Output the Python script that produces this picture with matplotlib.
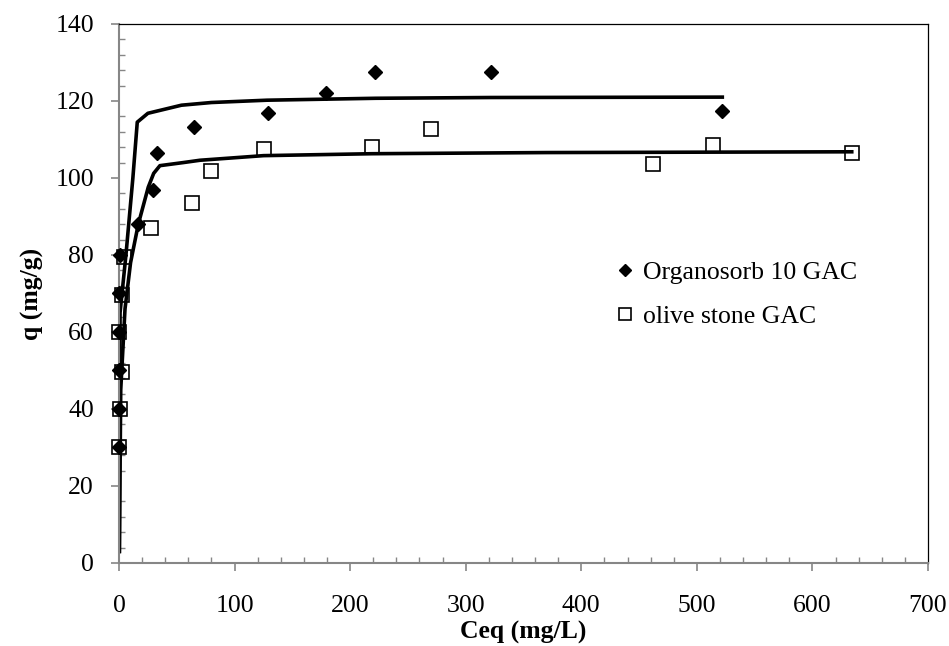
import numpy as np
import matplotlib
matplotlib.use("Agg")
import matplotlib.pyplot as plt
from matplotlib.ticker import MultipleLocator

plt.rcParams['font.family'] = ['Liberation Serif', 'DejaVu Serif']

# measured points, Organosorb 10 GAC
org_ceq = [0.1, 0.1, 0.2, 0.3, 0.2, 0.9, 16.7, 29.0, 32.5, 65.0, 128.5, 179.5, 221.8, 322.0, 522.0]
org_q = [30.0, 40.0, 50.0, 60.0, 70.0, 80.0, 88.1, 96.9, 106.5, 113.3, 117.0, 122.0, 127.5, 127.5, 117.5]

# measured points, olive stone GAC
olive_ceq = [0.2, 1.0, 2.8, 0.4, 2.3, 4.6, 28.0, 62.8, 79.5, 125.3, 219.0, 269.7, 461.8, 513.7, 633.8]
olive_q = [30.0, 40.0, 49.7, 60.0, 69.7, 79.5, 87.0, 93.6, 101.9, 107.4, 108.0, 112.8, 103.7, 108.5, 106.4]

# fitted curves as drawn
org_fit_ceq = [0.3, 0.9, 6.0, 12.0, 15.8, 25.0, 54.0, 80.0, 128.0, 222.0, 322.0, 522.0]
org_fit_q = [3.0, 65.0, 80.0, 100.0, 114.5, 116.8, 118.9, 119.6, 120.2, 120.7, 120.9, 121.0]

olive_fit_ceq = [0.3, 1.5, 5.2, 10.0, 16.7, 25.3, 30.0, 35.4, 55.6, 70.0, 125.0, 219.0, 370.0, 634.0]
olive_fit_q = [3.0, 45.0, 66.0, 78.0, 88.0, 97.6, 101.2, 103.2, 104.0, 104.6, 105.8, 106.3, 106.6, 106.8]

fig = plt.figure(figsize=(9.49, 6.46), dpi=100)
ax = fig.add_axes([0.1254, 0.1285, 0.8525, 0.8344])

ax.plot(org_fit_ceq, org_fit_q, '-', color='black', lw=2.6, zorder=2, solid_joinstyle='round')
ax.plot(olive_fit_ceq, olive_fit_q, '-', color='black', lw=2.6, zorder=2, solid_joinstyle='round')

org_pts, = ax.plot(org_ceq, org_q, 'D', color='black', ms=6.8, ls='none', zorder=4,
                   clip_on=False, label='Organosorb 10 GAC')
olive_pts, = ax.plot(olive_ceq, olive_q, 's', mfc='none', mec='black', mew=1.2, ms=9.5,
                     ls='none', zorder=4, clip_on=False, label='olive stone GAC')

ax.set_xlim(0, 700)
ax.set_ylim(0, 140)
ax.xaxis.set_major_locator(MultipleLocator(100))
ax.xaxis.set_minor_locator(MultipleLocator(20))
ax.yaxis.set_major_locator(MultipleLocator(20))
ax.yaxis.set_minor_locator(MultipleLocator(4))

grey = '#868686'
for side in ['left', 'bottom']:
    ax.spines[side].set_color(grey)
    ax.spines[side].set_linewidth(1.5)
for side in ['top', 'right']:
    ax.spines[side].set_color('black')
    ax.spines[side].set_linewidth(0.9)

ax.tick_params(which='major', direction='out', length=6, width=1.2, color=grey,
               labelsize=18.5)
ax.tick_params(axis='y', which='major', pad=12)
ax.tick_params(axis='x', which='major', pad=17)
ax.tick_params(which='minor', direction='in', length=4, width=1.0, color=grey)

ax.set_xlabel('Ceq (mg/L)', fontsize=18.5, fontweight='bold', labelpad=3)
ax.set_ylabel('q (mg/g)', fontsize=18.5, fontweight='bold', labelpad=8)

ax.legend(handles=[org_pts, olive_pts], loc='upper left', bbox_to_anchor=(0.617, 0.56),
          frameon=False, fontsize=18.5, handlelength=0.5, handletextpad=0.45,
          labelspacing=0.8, borderaxespad=0, borderpad=0, markerscale=0.9)

fig.savefig('out.png', dpi=100)
